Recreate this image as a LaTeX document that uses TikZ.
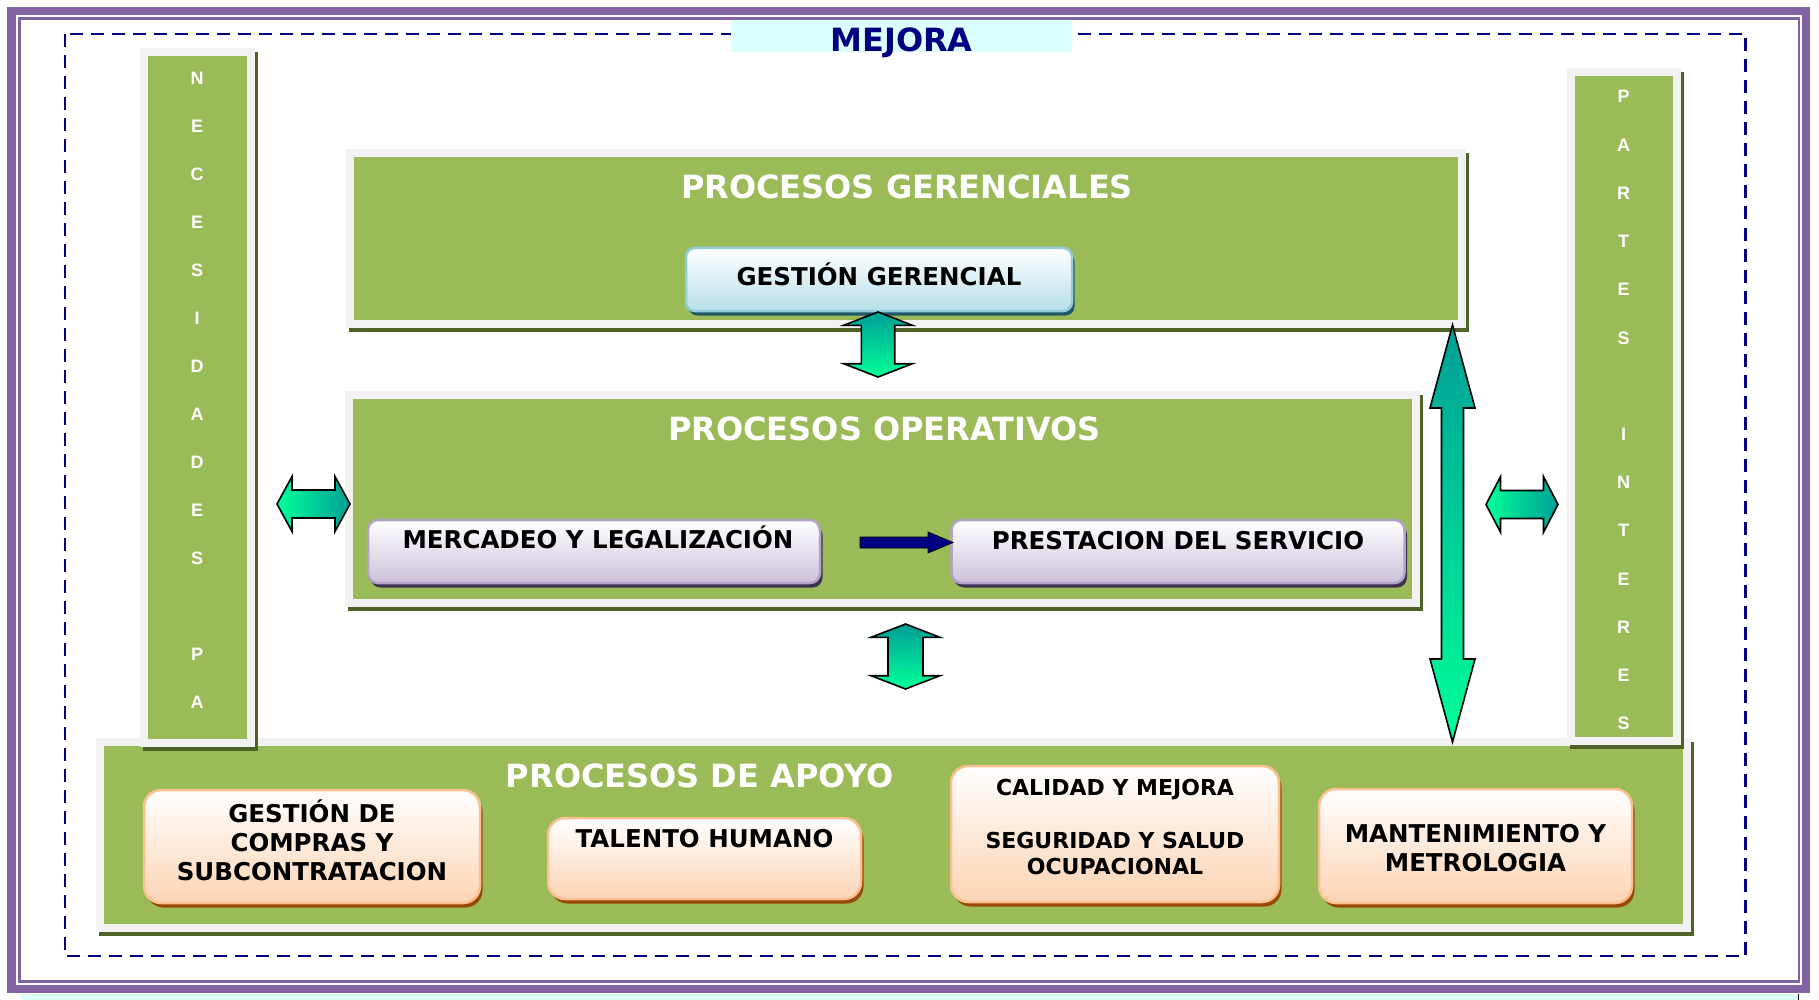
\documentclass[tikz,border=0pt]{standalone}
\usepackage{fontspec}
\newfontfamily\vfont{DejaVu Sans}
\newfontfamily\afont{Liberation Sans}
\usetikzlibrary{shadows}

\definecolor{panelgreen}{HTML}{9BBB59}
\definecolor{panelframe}{HTML}{F2F2F2}
\definecolor{panelshadow}{HTML}{4F6228}
\definecolor{borderpurple}{HTML}{8064A2}
\definecolor{mejorabg}{HTML}{DCFFFF}
\definecolor{navy}{HTML}{000080}
\definecolor{arrowteal}{HTML}{009E96}
\definecolor{arrowgreen}{HTML}{00FF99}
\definecolor{bluedraw}{HTML}{93CDDD}
\definecolor{bluefill}{HTML}{B7DEE8}
\definecolor{blueshade}{HTML}{215968}
\definecolor{lilacdraw}{HTML}{B3A2C7}
\definecolor{lilacfill}{HTML}{CCC1DA}
\definecolor{lilacshade}{HTML}{3F3151}
\definecolor{peachdraw}{HTML}{FAC090}
\definecolor{peachfill}{HTML}{FBD4B4}
\definecolor{peachshade}{HTML}{984807}

% green panel with grey frame and dark shadow: x1 y1 x2 y2
\newcommand{\panel}[4]{%
  \fill[panelshadow] (#1+3,#2+4) rectangle (#3+3,#4+4);
  \fill[panelframe] (#1,#2) rectangle (#3,#4);
  \fill[panelgreen] (#1+8,#2+8) rectangle (#3-8,#4-8);}

% vertical double block arrow: cx ytop ybottom shaft head headlength
\newcommand{\vdarrow}[6]{%
  \draw[blockarrow, top color=arrowteal, bottom color=arrowgreen]
    (#1,#2) -- (#1+#5,#2+#6) -- (#1+#4,#2+#6) -- (#1+#4,#3-#6) -- (#1+#5,#3-#6)
    -- (#1,#3) -- (#1-#5,#3-#6) -- (#1-#4,#3-#6) -- (#1-#4,#2+#6) -- (#1-#5,#2+#6) -- cycle;}

% horizontal double block arrow: cy xleft xright shaft head headlength
\newcommand{\hdarrow}[6]{%
  \draw[blockarrow, left color=arrowgreen, right color=arrowteal]
    (#2,#1) -- (#2+#6,#1-#5) -- (#2+#6,#1-#4) -- (#3-#6,#1-#4) -- (#3-#6,#1-#5)
    -- (#3,#1) -- (#3-#6,#1+#5) -- (#3-#6,#1+#4) -- (#2+#6,#1+#4) -- (#2+#6,#1+#5) -- cycle;}

\begin{document}
\begin{tikzpicture}[x=1pt, y=-1pt,
    blockarrow/.style={draw=black, line width=1.6pt, line join=miter},
    colletter/.style={text=white, font=\afont\bfseries\fontsize{18}{18}\selectfont, anchor=base, inner sep=0pt},
    paneltitle/.style={text=white, font=\vfont\bfseries\fontsize{32}{38}\selectfont, anchor=base, inner sep=0pt},
    boxtxt/.style={font=\vfont\bfseries\fontsize{24.5}{29}\selectfont, align=center, inner sep=0pt},
    bluebox/.style={rounded corners=9pt, draw=bluedraw, line width=2.5pt, top color=white, bottom color=bluefill,
      drop shadow={opacity=1, fill=blueshade, shadow xshift=2.5pt, shadow yshift=-4.5pt}, inner sep=0pt},
    lilacbox/.style={rounded corners=10pt, draw=lilacdraw, line width=2.5pt, top color=white, bottom color=lilacfill,
      drop shadow={opacity=1, fill=lilacshade, shadow xshift=2.5pt, shadow yshift=-4.5pt}, inner sep=0pt},
    peachbox/.style={rounded corners=17pt, draw=peachdraw, line width=2.5pt, top color=white, bottom color=peachfill,
      drop shadow={opacity=1, fill=peachshade, shadow xshift=2.5pt, shadow yshift=-4.5pt}, inner sep=0pt}]
    \useasboundingbox (0,0) rectangle (1819,1000);

    % page frame
    \draw[borderpurple, line width=8.5pt] (11.5,11) rectangle (1806,989);
    \draw[borderpurple, line width=2.5pt] (19.5,18.5) rectangle (1799,981.5);
    \filldraw[fill=mejorabg, draw=black, line width=0.6pt] (21,994) -- (21,1000) -- (1798,1000) -- (1798,994);
    \fill[mejorabg] (21,994) rectangle (1798,1000);

    % mejora
    \draw[navy, line width=2.2pt, dash pattern=on 13pt off 8pt] (65,34) rectangle (1745.5,956);
    \fill[mejorabg] (731,20) rectangle (1072,52);
    \node[paneltitle, text=navy] (mejora) at (901.5,51.5) {MEJORA};

    % panels
    \panel{96}{738}{1691}{932}
    \panel{140}{48}{255}{747}
    \panel{1567}{68}{1681}{745}
    \panel{346}{149}{1466}{328}
    \panel{345}{391}{1420}{607}

    \foreach \l [count=\i from 0] in {N,E,C,E,S,I,D,A,D,E,S,{},P,A}
        \node[colletter] (nec\i) at (197, 84.7+48*\i) {\l};
    \foreach \l [count=\i from 0] in {P,A,R,T,E,S,{},I,N,T,E,R,E,S}
        \node[colletter] (par\i) at (1623.5, 103+48.2*\i) {\l};

    \node[paneltitle] (ger) at (907,199) {PROCESOS GERENCIALES};
    \node[paneltitle] (ope) at (884.5,440) {PROCESOS OPERATIVOS};
    \node[paneltitle] (apo) at (700,787.5) {PROCESOS DE APOYO};

    % gerenciales
    \node[bluebox, minimum width=386, minimum height=63] (gesger) at (879,279.5) {};
    \node[boxtxt, anchor=base] (gesgertxt) at (879,285) {GESTIÓN GERENCIAL};

    % operativos
    \node[lilacbox, minimum width=452, minimum height=63] (merc) at (594,551.5) {};
    \node[boxtxt, anchor=base] (merctxt) at (598,548) {MERCADEO Y LEGALIZACIÓN};
    \node[lilacbox, minimum width=453, minimum height=63] (prest) at (1178,551.5) {};
    \node[boxtxt, anchor=base] (presttxt) at (1178,549) {PRESTACION DEL SERVICIO};
    \draw[black, line width=0.8pt, fill=navy] (860,537) -- (928,537) -- (928,532) -- (953,542.5)
        -- (928,553) -- (928,548) -- (860,548) -- cycle;

    % apoyo
    \node[peachbox, minimum width=336, minimum height=113] (compras) at (312,846.5) {};
    \node[boxtxt, anchor=north] (comprastxt) at (312,798) {\rule{0pt}{24pt}GESTIÓN DE\\COMPRAS Y\\SUBCONTRATACION};
    \node[peachbox, minimum width=313, minimum height=81] (talento) at (704.5,858.5) {};
    \node[boxtxt, anchor=base] (talentotxt) at (704.5,847) {TALENTO HUMANO};
    \node[peachbox, minimum width=328, minimum height=136] (calidad) at (1115,834) {};
    \node[boxtxt, anchor=north, font=\vfont\bfseries\fontsize{22}{26.5}\selectfont] (calidadtxt) at (1115,773)
        {\rule{0pt}{22pt}CALIDAD Y MEJORA\\[26.5pt]SEGURIDAD Y SALUD\\OCUPACIONAL};
    \node[peachbox, minimum width=313, minimum height=114] (mant) at (1475.5,846) {};
    \node[boxtxt, anchor=north] (manttxt) at (1475.5,818) {\rule{0pt}{24pt}MANTENIMIENTO Y\\METROLOGIA};

    % block arrows
    \vdarrow{878}{312}{377}{16.7}{34.4}{13.3}
    \vdarrow{905.5}{624}{689}{17.5}{34.5}{13.3}
    \vdarrow{1452.5}{325}{742}{11}{22.5}{83}
    \hdarrow{504}{277}{350}{14}{27.5}{15}
    \hdarrow{504.5}{1486}{1558}{14}{27.8}{14.5}
\end{tikzpicture}
\end{document}
